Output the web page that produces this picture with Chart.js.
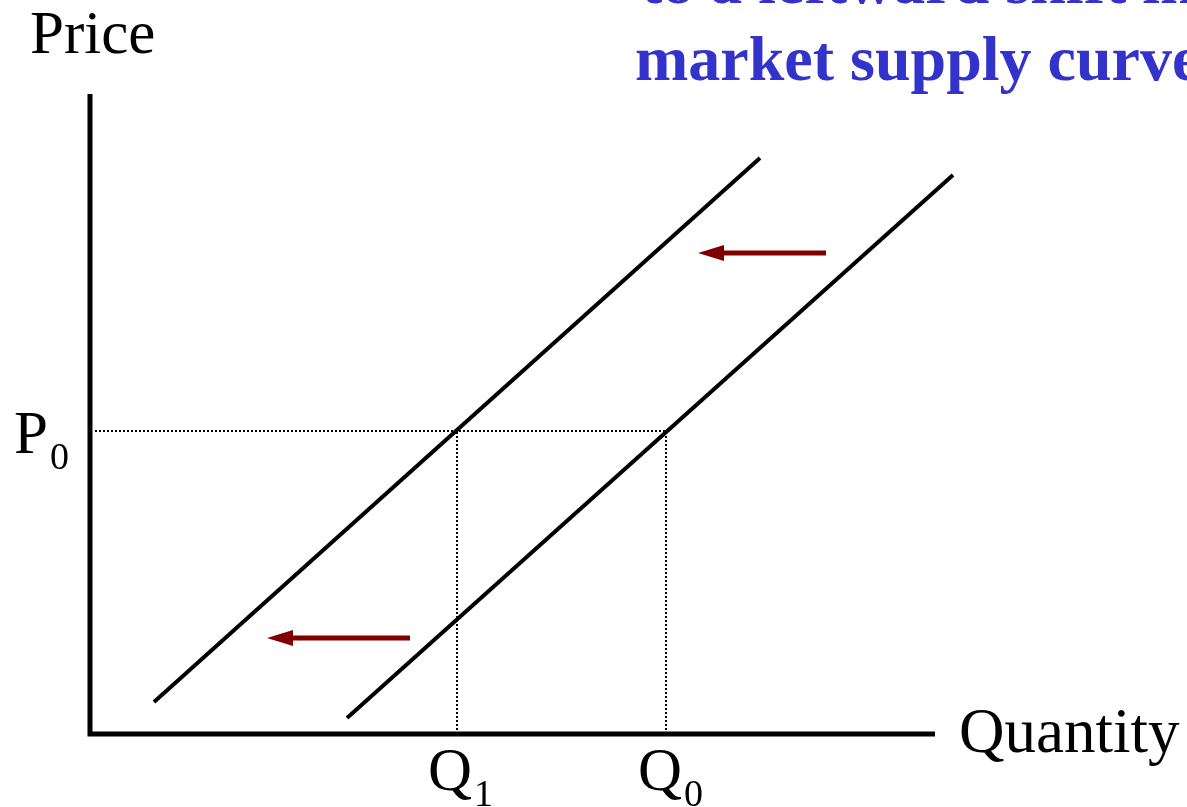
<!DOCTYPE html>
<html>
<head>
<meta charset="utf-8">
<script src="https://cdn.jsdelivr.net/npm/chart.js@4"></script>
<style>
    html, body { margin: 0; padding: 0; background: #ffffff; }
    #wrap { width: 1187px; height: 807px; position: relative; }
</style>
</head>
<body>
<div id="wrap"><canvas id="supplyChart"></canvas></div>
<script>
// Dados do gráfico (unidades arbitrárias de quantidade e preço)
const supplyOld = [{ x: 25.7, y: 1.6 }, { x: 86.3, y: 55.9 }];   // curva original
const supplyNew = [{ x: 6.4, y: 3.2 }, { x: 67.0, y: 57.6 }];    // curva deslocada
const P0 = 30.3;
const Q1 = 36.7;
const Q0 = 57.6;
const arrowTop = [{ x: 73.6, y: 48.1 }, { x: 60.8, y: 48.1 }];
const arrowBottom = [{ x: 32.0, y: 9.6 }, { x: 17.7, y: 9.6 }];
const axisLabels = ['Price', 'Quantity'];
const tickLabels = [['P', '0'], ['Q', '1'], ['Q', '0']];
const titleLines = ['to a leftward shift in the', 'market supply curve'];

const serif = '"Liberation Serif", "Times New Roman", serif';

// Plugin: eixos, setas e textos
const diagramPlugin = {
    id: 'diagram',
    afterDatasetsDraw(chart) {
        const ctx = chart.ctx;
        const area = chart.chartArea;
        ctx.save();

        // Eixos
        ctx.strokeStyle = '#000000';
        ctx.lineWidth = 5;
        ctx.beginPath();
        ctx.moveTo(area.left, area.top);
        ctx.lineTo(area.left, area.bottom + 2.5);
        ctx.moveTo(area.left - 2.5, area.bottom);
        ctx.lineTo(area.right, area.bottom);
        ctx.stroke();

        // Setas
        chart.data.datasets.forEach((ds, i) => {
            if (!ds.arrow) return;
            const pts = chart.getDatasetMeta(i).data;
            const a = pts[0], b = pts[pts.length - 1];
            const ang = Math.atan2(b.y - a.y, b.x - a.x);
            const headLen = 26, headHalf = 8;
            const bx = b.x - Math.cos(ang) * headLen;
            const by = b.y - Math.sin(ang) * headLen;
            ctx.strokeStyle = ds.arrowColor;
            ctx.fillStyle = ds.arrowColor;
            ctx.lineWidth = 5;
            ctx.lineCap = 'butt';
            ctx.beginPath();
            ctx.moveTo(a.x, a.y);
            ctx.lineTo(bx + Math.cos(ang) * 2, by + Math.sin(ang) * 2);
            ctx.stroke();
            ctx.beginPath();
            ctx.moveTo(b.x, b.y);
            ctx.lineTo(bx - Math.sin(ang) * headHalf, by + Math.cos(ang) * headHalf);
            ctx.lineTo(bx + Math.sin(ang) * headHalf, by - Math.cos(ang) * headHalf);
            ctx.closePath();
            ctx.fill();
        });

        const xs = chart.scales.x, ys = chart.scales.y;
        ctx.fillStyle = '#000000';
        ctx.textAlign = 'left';
        ctx.textBaseline = 'alphabetic';

        // Rótulos dos eixos
        ctx.font = '61px ' + serif;
        ctx.fillText(axisLabels[0], 30, area.top - 41);
        ctx.font = '63px ' + serif;
        ctx.fillText(axisLabels[1], area.right + 24, area.bottom + 18);

        // Rótulo com subscrito
        function subLabel(parts, x, y) {
            ctx.font = '61px ' + serif;
            ctx.fillText(parts[0], x, y);
            const w = ctx.measureText(parts[0]).width;
            ctx.font = '38px ' + serif;
            ctx.fillText(parts[1], x + w + 2, y + 16);
        }
        const py = ys.getPixelForValue(P0);
        subLabel(tickLabels[0], 14, py + 22);
        const q1x = xs.getPixelForValue(Q1);
        subLabel(tickLabels[1], q1x - 29, area.bottom + 56);
        const q0x = xs.getPixelForValue(Q0);
        subLabel(tickLabels[2], q0x - 28, area.bottom + 56);

        // Título (cortado no topo)
        ctx.fillStyle = '#3333cc';
        ctx.font = 'bold 64px ' + serif;
        ctx.fillText(titleLines[0], 641, 3);
        ctx.fillText(titleLines[1], 635, 80);

        ctx.restore();
    }
};

const solid = { borderColor: '#000000', borderWidth: 4, borderCapStyle: 'butt', pointRadius: 0, showLine: true, clip: false, fill: false };
const dotted = { borderColor: '#000000', borderWidth: 2, borderDash: [2, 2], pointRadius: 0, showLine: true, clip: false, fill: false };

const ctx = document.getElementById('supplyChart').getContext('2d');
const supplyChart = new Chart(ctx, {
    type: 'scatter',
    data: {
        datasets: [
            Object.assign({ label: 'S0', data: supplyOld }, solid),
            Object.assign({ label: 'S1', data: supplyNew }, solid),
            Object.assign({ label: 'P0', data: [{ x: 0.5, y: P0 }, { x: Q0, y: P0 }] }, dotted),
            Object.assign({ label: 'Q1', data: [{ x: Q1, y: 0 }, { x: Q1, y: P0 }] }, dotted),
            Object.assign({ label: 'Q0', data: [{ x: Q0, y: 0 }, { x: Q0, y: P0 }] }, dotted),
            { label: 'shift top', data: arrowTop, arrow: true, arrowColor: '#800000', showLine: false, pointRadius: 0 },
            { label: 'shift bottom', data: arrowBottom, arrow: true, arrowColor: '#800000', showLine: false, pointRadius: 0 }
        ]
    },
    options: {
        responsive: true,
        maintainAspectRatio: false,
        animation: false,
        layout: { padding: { left: 90, top: 94, right: 252, bottom: 73 } },
        plugins: { legend: { display: false }, tooltip: { enabled: false }, title: { display: false } },
        scales: {
            x: { type: 'linear', min: 0, max: 84.5, display: false },
            y: { type: 'linear', min: 0, max: 64, display: false }
        }
    },
    plugins: [diagramPlugin]
});
</script>
</body>
</html>
